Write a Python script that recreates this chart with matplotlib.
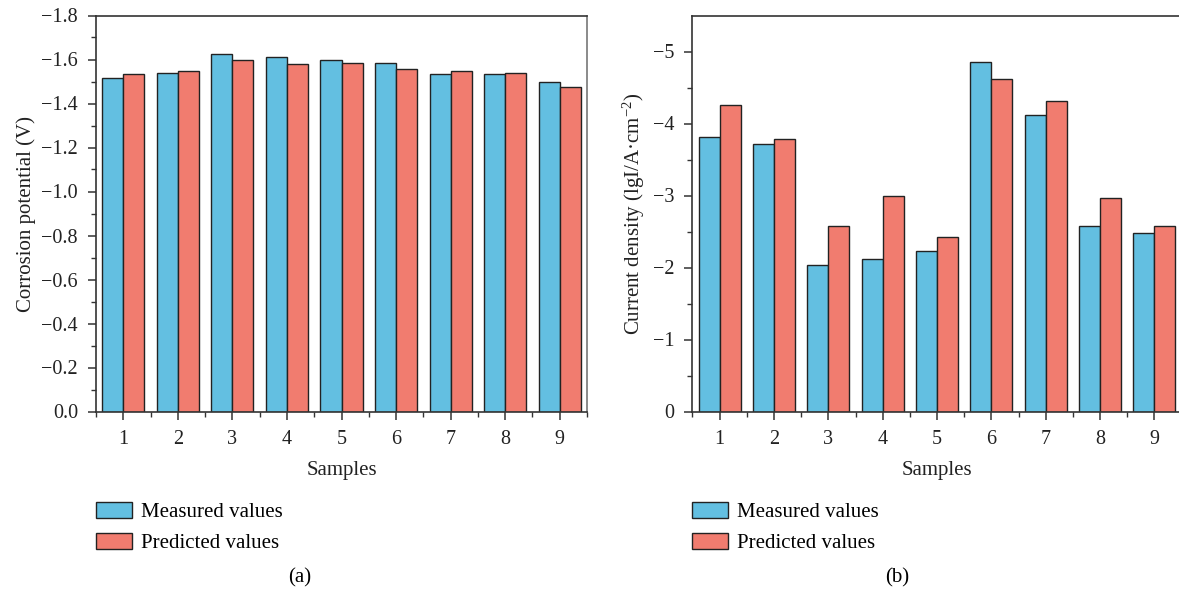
import matplotlib
matplotlib.use("Agg")
from matplotlib import pyplot as plt
from matplotlib.ticker import MultipleLocator, FixedLocator, FuncFormatter
from matplotlib.patches import Patch

plt.rcParams['font.family'] = ['Liberation Serif', 'DejaVu Serif']
plt.rcParams['mathtext.default'] = 'regular'

samples = [1, 2, 3, 4, 5, 6, 7, 8, 9]
# 腐蚀电位 (V)
pot_measured = [-1.517, -1.540, -1.623, -1.611, -1.596, -1.585, -1.535, -1.535, -1.499]
pot_predicted = [-1.536, -1.547, -1.600, -1.579, -1.585, -1.556, -1.549, -1.540, -1.473]
# 电流密度 (lgI/A·cm-2)
cur_measured = [-3.81, -3.71, -2.03, -2.12, -2.23, -4.85, -4.12, -2.57, -2.48]
cur_predicted = [-4.26, -3.78, -2.57, -3.00, -2.43, -4.62, -4.31, -2.96, -2.57]

blue = '#63bfe1'
red = '#f17c6f'
edge = '#222222'
bar_width = 0.385

W, H = 1179, 593
fig = plt.figure(figsize=(W / 100, H / 100), dpi=100)


def minus_fmt(decimals):
    def f(v, pos):
        s = f"{v:.{decimals}f}"
        if s.startswith('-'):
            s = '\u2212' + s[1:]
        return s
    return FuncFormatter(f)


def draw_panel(rect, measured, predicted, ylim, major, minor, decimals, ylabel):
    ax = fig.add_axes(rect)
    x_m = [i - bar_width / 2 for i in samples]
    x_p = [i + bar_width / 2 for i in samples]
    ax.bar(x_m, measured, width=bar_width, color=blue, edgecolor=edge, linewidth=1)
    ax.bar(x_p, predicted, width=bar_width, color=red, edgecolor=edge, linewidth=1)
    ax.set_xlim(0.5, 9.5)
    ax.set_ylim(0, ylim)
    ax.set_xticks(samples)
    ax.xaxis.set_minor_locator(MultipleLocator(1, offset=0.5))
    ax.yaxis.set_major_locator(MultipleLocator(major))
    n = int(round(abs(ylim) / minor))
    ax.yaxis.set_minor_locator(FixedLocator([-minor * k for k in range(n)]))
    ax.yaxis.set_major_formatter(minus_fmt(decimals))
    ax.tick_params(which='both', direction='out', top=False, right=False,
                   labelsize=14.5, color='#333333', labelcolor='#222222')
    ax.tick_params(which='major', length=6, width=1.1, pad=7)
    ax.tick_params(which='minor', length=3.5, width=1.0)
    for s in ax.spines.values():
        s.set_linewidth(1.2)
        s.set_color('#333333')
    ax.spines['right'].set_color('#777777')
    ax.set_xlabel('Samples', fontsize=15, labelpad=9, color='#222222')
    ax.set_ylabel(ylabel, fontsize=15, color='#222222')
    return ax


ax1 = draw_panel([96 / W, 1 - 411.5 / H, 491 / W, 396 / H],
                 pot_measured, pot_predicted, -1.8, 0.2, 0.1, 1,
                 'Corrosion potential (V)')
ax2 = draw_panel([692.5 / W, 1 - 411.5 / H, 489 / W, 396 / H],
                 cur_measured, cur_predicted, -5.5, 1, 0.5, 0,
                 'Current density (lgI/A\u00b7cm$^{-2}$)')

handles = [Patch(facecolor=blue, edgecolor=edge, linewidth=1, label='Measured values'),
           Patch(facecolor=red, edgecolor=edge, linewidth=1, label='Predicted values')]
for x0 in [96, 692]:
    fig.legend(handles=handles, loc='upper left',
               bbox_to_anchor=(x0 / W, 1 - 502 / H), frameon=False,
               fontsize=15, handlelength=1.75, handleheight=0.8,
               handletextpad=0.4, labelspacing=0.5, borderaxespad=0,
               borderpad=0)

fig.text(300 / W, 1 - 578 / H, '(a)', ha='center', va='center', fontsize=15)
fig.text(897 / W, 1 - 578 / H, '(b)', ha='center', va='center', fontsize=15)

fig.savefig('out.png', dpi=100)
